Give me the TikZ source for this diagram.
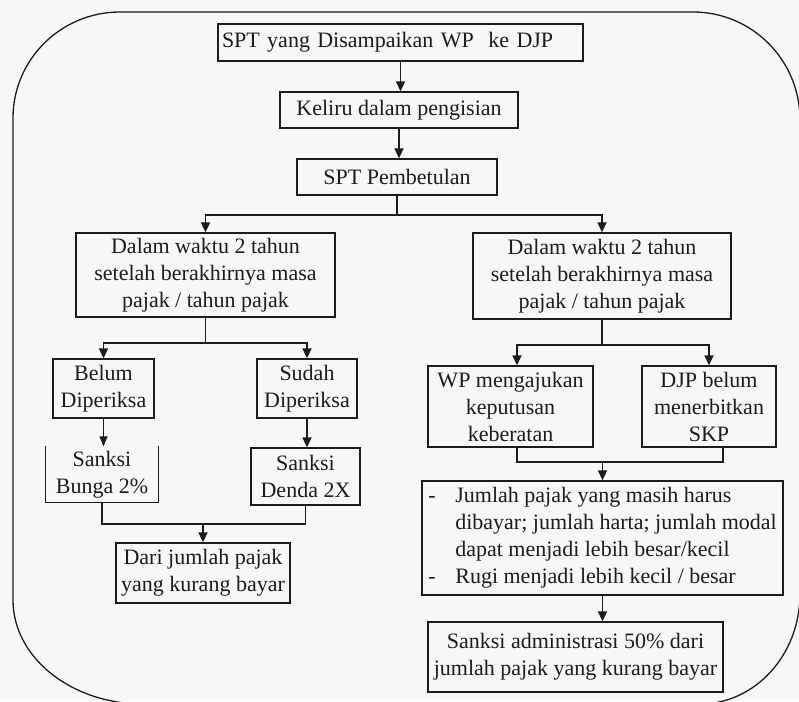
\documentclass[tikz,border=0pt]{standalone}
\usepackage{fontspec}
\setmainfont{Liberation Serif}
\usetikzlibrary{arrows.meta}
\definecolor{bg}{RGB}{247,247,247}
\definecolor{ink}{RGB}{28,28,28}
\begin{document}
\begin{tikzpicture}[x=1pt,y=-1pt,
  box/.style={draw=ink, line width=1.3pt, fill=bg, inner sep=0pt, align=center,
              text=ink, font=\fontsize{22}{27}\selectfont},
  conn/.style={draw=ink, line width=1.7pt},
  arr/.style={conn, -{Triangle[length=10pt,width=9pt]}},
  thinarr/.style={draw=ink, line width=0.9pt, -{Triangle[length=10pt,width=8pt]}}]
\useasboundingbox (0,0) rectangle (799,701);
\fill[bg] (0,0) rectangle (799,701);
% outer rounded frame
\draw[ink, line width=1.3pt] (13,600) -- (13,118) .. controls (13,59.5) and (61,12) .. (120,12)
  -- (693,12) .. controls (752,12) and (800,60) .. (800,120)
  -- (800,594) .. controls (800,654.7) and (755.2,704) .. (700,704)
  -- (143,704) .. controls (71.2,704) and (13,657.4) .. (13,600) -- cycle;
% nodes
\node[box, minimum width=365, minimum height=37, text width=357, inner xsep=4, align=left] (n1) at (400.5,42.5) {SPT yang Disampaikan WP\ \ ke DJP};
\node[box, minimum width=238, minimum height=36] (n2) at (399,110) {Keliru dalam pengisian};
\node[box, minimum width=200, minimum height=36] (n3) at (397,177) {SPT Pembetulan};
\node[box, minimum width=259, minimum height=84] (L) at (205.5,275) {Dalam waktu 2 tahun\\setelah berakhirnya masa\\pajak / tahun pajak};
\node[box, minimum width=258, minimum height=86] (R) at (602,276) {Dalam waktu 2 tahun\\setelah berakhirnya masa\\pajak / tahun pajak};
\node[box, minimum width=101, minimum height=59] (belum) at (103.5,388.5) {Belum\\Diperiksa};
\node[box, minimum width=100, minimum height=59] (sudah) at (307,388.5) {Sudah\\Diperiksa};
\node[box, draw=none, minimum width=112, minimum height=55] (bunga) at (102,474.5) {Sanksi\\Bunga 2\%};
\draw[ink, line width=1.3pt] (bunga.north west) -- (bunga.south west) -- (bunga.south east) -- (bunga.north east);
\node[box, minimum width=109, minimum height=57] (denda) at (305.5,476.5) {Sanksi\\Denda 2X};
\node[box, minimum width=174, minimum height=60] (dari) at (203,573) {Dari jumlah pajak\\yang kurang bayar};
\node[box, minimum width=165, minimum height=81] (wp) at (510.5,406.5) {WP mengajukan\\keputusan\\keberatan};
\node[box, minimum width=134, minimum height=81] (djp) at (709,406.5) {DJP belum\\menerbitkan\\SKP};
\node[box, minimum width=361, minimum height=114, align=left] (jml) at (602.5,538)
  {\makebox[27pt][l]{-}Jumlah pajak yang masih harus\\
   \hspace*{27pt}dibayar; jumlah harta; jumlah modal\\
   \hspace*{27pt}dapat menjadi lebih besar/kecil\\
   \makebox[27pt][l]{-}Rugi menjadi lebih kecil / besar};
\node[box, minimum width=295, minimum height=70] (adm) at (575.5,657) {Sanksi administrasi 50\% dari\\jumlah pajak yang kurang bayar};
% junction coordinates
\coordinate (jA) at (400,215);
\coordinate (jL) at (0,343);
\coordinate (jR) at (0,345);
\coordinate (jB) at (0,524);
\coordinate (jC) at (0,462);
% connectors
\draw[arr] (n1.south) -- (n1.south |- n2.north);
\draw[arr] (n2.south) -- (n2.south |- n3.north);
\draw[conn] (n3.south) -- (n3.south |- jA);
\draw[arr] (n3.south |- jA) -| (L.north);
\draw[arr] (n3.south |- jA) -| (R.north);
\draw[conn] (L.south) -- (L.south |- jL);
\draw[arr] (L.south |- jL) -| (belum.north);
\draw[arr] (L.south |- jL) -| (sudah.north);
\draw[thinarr] (belum.south) -- (belum.south |- bunga.north);
\draw[arr] (sudah.south) -- (sudah.south |- denda.north);
\draw[conn, line width=1.3pt] (bunga.south) |- (denda.south |- jB) -- (denda.south);
\draw[arr] (dari.north |- jB) -- (dari.north);
\draw[conn] (R.south) -- (R.south |- jR);
\draw[arr] (R.south |- jR) -| ([xshift=6.5]wp.north);
\draw[arr] (R.south |- jR) -| (djp.north);
\draw[conn, line width=1.3pt] ([xshift=6.5]wp.south) |- ([xshift=14]djp.south |- jC) -- ([xshift=14]djp.south);
\draw[arr] (jml.north |- jC) -- (jml.north);
\draw[arr] (jml.south) -- (jml.south |- adm.north);
\end{tikzpicture}
\end{document}
